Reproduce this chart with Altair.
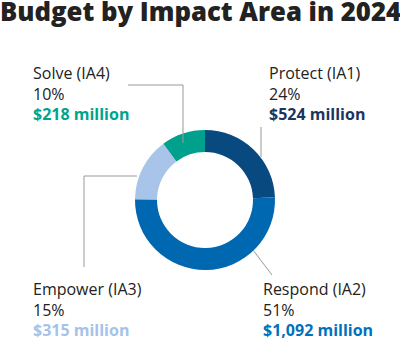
import altair as alt
import pandas as pd

title = "Budget by Impact Area in 2024"
categories = ["Protect (IA1)", "Respond (IA2)", "Empower (IA3)", "Solve (IA4)"]
percents = ["24%", "51%", "15%", "10%"]
amounts = [524, 1092, 315, 218]
amount_labels = ["$524 million", "$1,092 million", "$315 million", "$218 million"]
colors = ["#08497f", "#0067b1", "#a8c5e9", "#00a18c"]
label_colors = ["#1c355e", "#0071bc", "#a5c3ea", "#00a48d"]

df = pd.DataFrame({"cat": categories, "amount": amounts, "order": [0, 1, 2, 3]})

W, H = 400, 342
CX, CY = 205, 200

donut = alt.Chart(df).mark_arc(outerRadius=70, innerRadius=48).encode(
    theta=alt.Theta("amount:Q", stack=True),
    order=alt.Order("order:Q"),
    color=alt.Color("cat:N", scale=alt.Scale(domain=categories, range=colors), legend=None),
    x=alt.value(CX),
    y=alt.value(CY),
)

# label anchor (left x, first baseline y)
label_pos = {
    "Protect (IA1)": (269, 79),
    "Respond (IA2)": (263, 295),
    "Empower (IA3)": (33, 295),
    "Solve (IA4)": (33, 79),
}
LH = 20.5
FONT = "Open Sans"

layers = [donut]
for i, cat in enumerate(categories):
    x0, y0 = label_pos[cat]
    sub = alt.Chart(df).transform_filter(alt.datum.cat == cat)
    layers.append(sub.mark_text(align="left", baseline="alphabetic", font=FONT,
                                fontSize=16, color="#222222").encode(
        x=alt.value(x0), y=alt.value(y0), text=alt.value(cat)))
    layers.append(sub.mark_text(align="left", baseline="alphabetic", font=FONT,
                                fontSize=16, color="#222222").encode(
        x=alt.value(x0), y=alt.value(y0 + LH), text=alt.value(percents[i])))
    layers.append(sub.mark_text(align="left", baseline="alphabetic", font=FONT,
                                fontSize=16, fontWeight="bold", color=label_colors[i]).encode(
        x=alt.value(x0), y=alt.value(y0 + 2 * LH), text=alt.value(amount_labels[i])))

# leader lines
segs = [
    (128, 183, 85, 85), (183, 183, 85, 143),     # Solve
    (261, 261, 127, 157),                         # Protect
    (84, 137, 176, 176), (84, 84, 176, 267),      # Empower
    (253, 272, 250, 275),                         # Respond
]
for x1, x2, y1, y2 in segs:
    layers.append(alt.Chart(df).transform_filter(alt.datum.order == 0)
                  .mark_rule(color="#999999", strokeWidth=1).encode(
        x=alt.value(x1), x2=alt.value(x2), y=alt.value(y1), y2=alt.value(y2)))

# title
layers.append(alt.Chart(df).transform_filter(alt.datum.order == 0)
              .mark_text(align="left", baseline="alphabetic", font=FONT, fontSize=25.7,
                         fontWeight=800, color="#222222").encode(
    x=alt.value(0), y=alt.value(21), text=alt.value(title)))

chart = alt.layer(*layers).properties(
    width=W, height=H, padding=0, autosize=alt.AutoSizeParams(type="none")
).configure_view(stroke=None)

chart.save("out.html", embed_options={"renderer": "svg", "actions": False})
